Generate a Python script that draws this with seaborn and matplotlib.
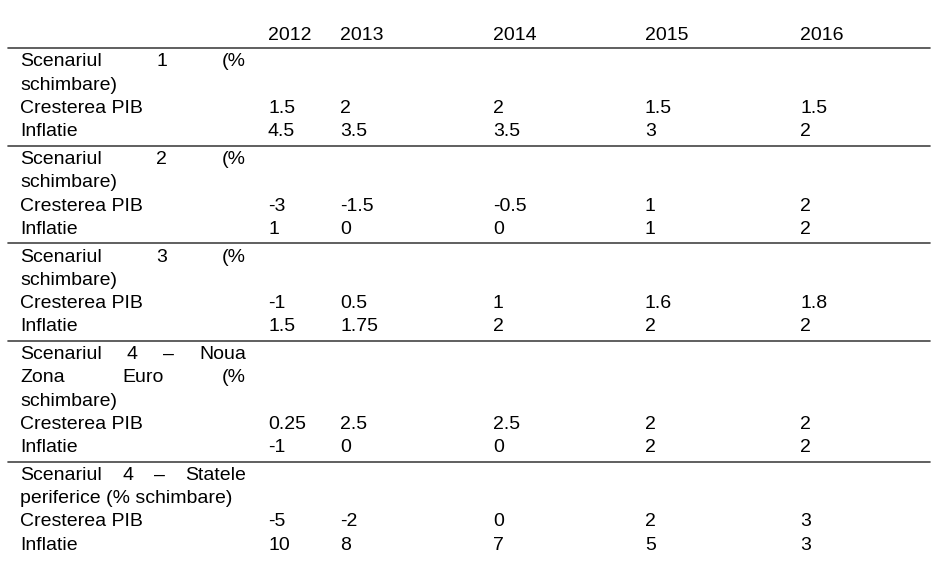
import matplotlib
matplotlib.use("Agg")
import matplotlib.pyplot as plt
import seaborn as sns

years = ["2012", "2013", "2014", "2015", "2016"]
headings = [
    ["Scenariul 1 (%", "schimbare)"],
    ["Scenariul 2 (%", "schimbare)"],
    ["Scenariul 3 (%", "schimbare)"],
    ["Scenariul 4 – Noua", "Zona Euro (%", "schimbare)"],
    ["Scenariul 4 – Statele", "periferice (% schimbare)"],
]
pib = [
    ["1.5", "2", "2", "1.5", "1.5"],
    ["-3", "-1.5", "-0.5", "1", "2"],
    ["-1", "0.5", "1", "1.6", "1.8"],
    ["0.25", "2.5", "2.5", "2", "2"],
    ["-5", "-2", "0", "2", "3"],
]
inflatie = [
    ["4.5", "3.5", "3.5", "3", "2"],
    ["1", "0", "0", "1", "2"],
    ["1.5", "1.75", "2", "2", "2"],
    ["-1", "0", "0", "2", "2"],
    ["10", "8", "7", "5", "3"],
]
# justified lines (the last line of each heading is left aligned)
justify = [[True, False], [True, False], [True, False],
           [True, True, False], [True, False]]

sns.set_theme(style="white")
plt.rcParams["font.family"] = ["Liberation Sans", "DejaVu Sans"]
plt.rcParams["text.color"] = "black"

W, H = 938, 581
fig = plt.figure(figsize=(W / 100, H / 100), dpi=100)
ax = fig.add_axes([0, 0, 1, 1])
ax.set_xlim(0, W)
ax.set_ylim(H, 0)
ax.axis("off")

fs = 14
col_x = [268, 340, 493, 645, 800]
left, right = 20, 246
row_h = 23.3
gap = 4.3
line_kw = dict(color="#444444", lw=1.2)
renderer = fig.canvas.get_renderer()


def justified(line, y):
    words = line.split()
    texts = [ax.text(0, y, w, fontsize=fs, va="center") for w in words]
    widths = []
    inv = ax.transData.inverted()
    for t in texts:
        bb = t.get_window_extent(renderer)
        x0 = inv.transform((bb.x0, 0))[0]
        x1 = inv.transform((bb.x1, 0))[0]
        widths.append(x1 - x0)
    space = (right - left - sum(widths)) / max(len(words) - 1, 1)
    x = left
    for t, w in zip(texts, widths):
        t.set_x(x)
        x += w + space


for cx, yr in zip(col_x, years):
    ax.text(cx, 36, yr, fontsize=fs, va="center")
ax.plot([8, 930], [48, 48], **line_kw)

y = 62
for i, head in enumerate(headings):
    for line, jus in zip(head, justify[i]):
        if jus:
            justified(line, y)
        else:
            ax.text(left, y, line, fontsize=fs, va="center")
        y += row_h
    for label, vals in (("Cresterea PIB", pib[i]), ("Inflatie", inflatie[i])):
        ax.text(left, y, label, fontsize=fs, va="center")
        for cx, v in zip(col_x, vals):
            ax.text(cx, y, v, fontsize=fs, va="center")
        y += row_h
    if i < len(headings) - 1:
        ax.plot([8, 930], [y - row_h / 2 + gap / 2, y - row_h / 2 + gap / 2], **line_kw)
        y += gap

fig.savefig("out.png", dpi=100, facecolor="white")
